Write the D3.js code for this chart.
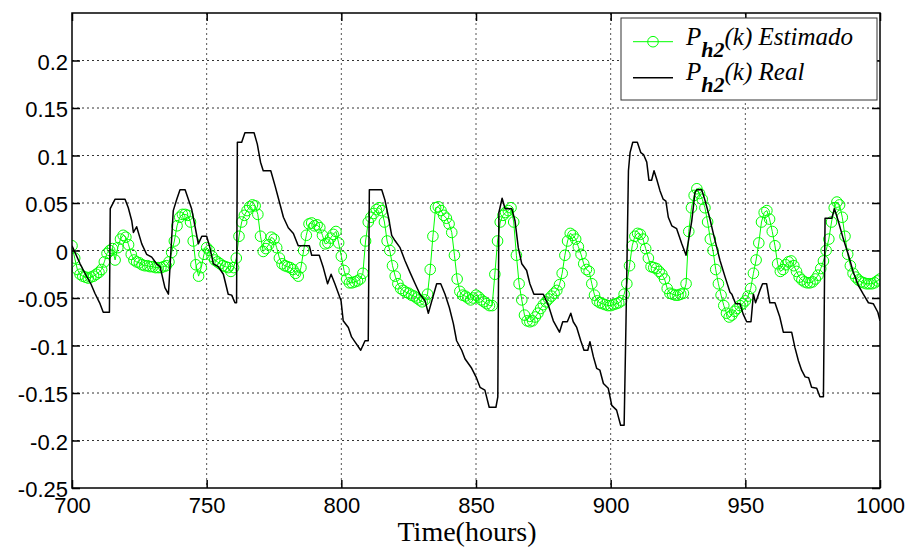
<!DOCTYPE html>
<html>
<head>
<meta charset="utf-8">
<script src="https://cdn.jsdelivr.net/npm/d3@7/dist/d3.min.js"></script>
<style>
  html, body { margin: 0; padding: 0; background: #fff; }
  svg { display: block; }
</style>
</head>
<body>
<svg id="chart" width="911" height="548"></svg>
<script>
// ---- Data ----
const xTicks = [700, 750, 800, 850, 900, 950, 1000];
const yTicks = [-0.25, -0.2, -0.15, -0.1, -0.05, 0, 0.05, 0.1, 0.15, 0.2];

// Estimated series: one value per hour, 700..1000
const estHours = d3.range(700, 1001);
const estValues = [
  0.005, -0.008, -0.02, -0.025, -0.027, -0.028, -0.029, -0.028, -0.027, -0.025,
  -0.023, -0.02, -0.012, -0.003, 0.0, 0.002, -0.01, 0.003, 0.012, 0.016,
  0.014, 0.006, -0.004, -0.01, -0.012, -0.013, -0.015, -0.016, -0.016, -0.017,
  -0.017, -0.018, -0.018, -0.018, -0.017, -0.016, -0.012, -0.002, 0.01, 0.026,
  0.035, 0.038, 0.038, 0.037, 0.03, 0.01, -0.015, -0.027, -0.018, -0.004,
  0.003, 0.0, -0.006, -0.01, -0.012, -0.014, -0.016, -0.017, -0.018, -0.022,
  -0.018, -0.008, 0.015, 0.03, 0.037, 0.042, 0.046, 0.048, 0.047, 0.038,
  0.015, -0.001, 0.002, 0.006, 0.014, 0.012, 0.003, -0.008, -0.014, -0.016,
  -0.017, -0.018, -0.02, -0.024, -0.027, -0.018, 0.0, 0.016, 0.028, 0.029,
  0.026, 0.027, 0.024, 0.016, 0.007, 0.008, 0.013, 0.017, 0.02, 0.008,
  -0.006, -0.021, -0.03, -0.034, -0.034, -0.033, -0.032, -0.03, -0.024, 0.01,
  0.03, 0.035, 0.039, 0.043, 0.045, 0.042, 0.03, 0.01, 0.0, -0.016,
  -0.027, -0.035, -0.04, -0.042, -0.044, -0.045, -0.047, -0.048, -0.05, -0.052,
  -0.054, -0.052, -0.046, -0.02, 0.015, 0.045, 0.046, 0.042, 0.037, 0.034,
  0.028, 0.019, -0.005, -0.03, -0.043, -0.047, -0.048, -0.05, -0.052, -0.05,
  -0.047, -0.049, -0.052, -0.054, -0.056, -0.058, -0.058, -0.025, 0.01, 0.03,
  0.037, 0.04, 0.042, 0.045, 0.03, -0.005, -0.035, -0.052, -0.068, -0.074,
  -0.075, -0.074, -0.07, -0.066, -0.061, -0.057, -0.054, -0.051, -0.048, -0.045,
  -0.042, -0.036, -0.024, -0.005, 0.01, 0.018, 0.016, 0.012, 0.004, -0.004,
  -0.014, -0.02, -0.022, -0.035, -0.047, -0.053, -0.055, -0.056, -0.057, -0.058,
  -0.058, -0.057, -0.056, -0.055, -0.053, -0.046, -0.035, -0.016, 0.005, 0.015,
  0.018, 0.017, 0.012, 0.002, -0.008, -0.017, -0.018, -0.019, -0.022, -0.025,
  -0.03, -0.04, -0.045, -0.046, -0.047, -0.047, -0.046, -0.045, -0.035, 0.02,
  0.045, 0.058, 0.065, 0.06, 0.054, 0.045, 0.03, 0.012, 0.0, -0.02,
  -0.035, -0.047, -0.058, -0.066, -0.07, -0.068, -0.064, -0.061, -0.058, -0.056,
  -0.053, -0.048, -0.04, -0.024, -0.01, 0.008, 0.03, 0.04, 0.042, 0.033,
  0.02, 0.005, -0.014, -0.022, -0.02, -0.015, -0.012, -0.011, -0.016, -0.022,
  -0.028, -0.031, -0.033, -0.034, -0.034, -0.033, -0.03, -0.026, -0.019, -0.011,
  0.0, 0.012, 0.03, 0.045, 0.051, 0.048, 0.035, 0.015, -0.004, -0.016,
  -0.024, -0.028, -0.031, -0.033, -0.034, -0.035, -0.035, -0.035, -0.034, -0.032,
  -0.03
];

// Real series: breakpoints
const realHours = [
  700, 703, 705, 707, 708.5, 710.4, 711.6, 713.9, 714.2, 716,
  719.7, 720.9, 722.2, 722.8, 724, 725.9, 727.7, 729.6, 731.4, 732.7,
  734.5, 735.8, 737.6, 738.9, 740.1, 742, 743.2, 744.4, 745.7, 746.9,
  748.2, 750, 751.2, 752.5, 754.3, 756.2, 758, 759.3, 760.5, 761.1,
  761.4, 763, 764.2, 767.6, 768.8, 770, 771, 773.8, 775.4, 777,
  778.5, 780.3, 782.2, 784, 788.1, 789, 791.8, 793.3, 794.9, 796.2,
  797.6, 799.9, 800.7, 802.6, 803.8, 805, 807.2, 808.8, 810, 810.4,
  815, 816.2, 817.5, 818.7, 819.9, 821.8, 823.6, 825.5, 827.4, 829.2,
  831.1, 832.3, 833.6, 835.4, 836.9, 838.5, 840.1, 841.6, 842.8, 844.7,
  845.9, 848.4, 850, 851.5, 853.3, 854.9, 857.4, 858.1, 858.5, 859.7,
  860.8, 863.3, 864.5, 865.7, 867, 868.8, 870, 871.5, 875, 876.9,
  878.7, 881, 882.2, 883.9, 885.2, 886.1, 887.4, 888.9, 890.1, 891.5,
  892.3, 893.6, 894.8, 896, 897.3, 899.1, 900.4, 902.2, 903.7, 905,
  905.7, 906.6, 907.2, 908.2, 909.9, 911.2, 912.2, 913.4, 914.2, 915.2,
  916.1, 917.1, 918.3, 919.5, 920.5, 921.4, 922.7, 924.5, 926.4, 928,
  930.1, 931.3, 932, 933.8, 935, 936.7, 938.1, 940.6, 942.5, 944.3,
  945, 946.4, 948, 949.2, 950.5, 952.1, 953, 953.8, 955.4, 956.4,
  957.9, 959.1, 961, 962.8, 964.1, 967.2, 968.4, 969.7, 970.9, 972.2,
  973.5, 974.6, 976.5, 977.7, 979, 979.6, 982.1, 983.1, 984.5, 986.4,
  988.2, 990.1, 992, 993.8, 995.7, 997.5, 999.2, 1000
];
const realValues = [
  0.005, -0.014, -0.025, -0.035, -0.045, -0.056, -0.065, -0.065, 0.044, 0.054,
  0.054, 0.045, 0.031, 0.019, 0.025, 0.007, -0.004, -0.007, -0.014, -0.017,
  -0.039, -0.046, 0.042, 0.054, 0.064, 0.064, 0.054, 0.044, 0.025, 0.007,
  0.015, 0.015, 0.003, -0.014, -0.017, -0.025, -0.046, -0.047, -0.055, -0.055,
  0.114, 0.114, 0.124, 0.124, 0.112, 0.093, 0.084, 0.084, 0.068, 0.051,
  0.035, 0.024, 0.018, 0.005, 0.005, -0.005, -0.005, -0.018, -0.035, -0.025,
  -0.035, -0.053, -0.074, -0.081, -0.091, -0.096, -0.105, -0.095, -0.095, 0.064,
  0.064, 0.053, 0.035, 0.016, 0.0105, 0.003, -0.0105, -0.023, -0.035, -0.046,
  -0.053, -0.066, -0.053, -0.035, -0.035, -0.046, -0.060, -0.077, -0.095, -0.105,
  -0.114, -0.124, -0.133, -0.144, -0.147, -0.165, -0.165, -0.154, 0.040, 0.055,
  0.044, 0.044, 0.031, 0.003, -0.014, -0.021, -0.035, -0.046, -0.046, -0.058,
  -0.074, -0.086, -0.075, -0.075, -0.066, -0.075, -0.081, -0.095, -0.105, -0.105,
  -0.096, -0.112, -0.124, -0.126, -0.140, -0.145, -0.163, -0.168, -0.184, -0.184,
  -0.074, 0.084, 0.103, 0.114, 0.114, 0.103, 0.101, 0.093, 0.074, 0.074,
  0.084, 0.075, 0.063, 0.054, 0.052, 0.035, 0.026, 0.023, 0.007, -0.005,
  0.031, 0.061, 0.064, 0.064, 0.053, 0.035, 0.018, -0.0105, -0.028, -0.044,
  -0.046, -0.056, -0.056, -0.067, -0.075, -0.075, -0.046, -0.055, -0.042, -0.035,
  -0.035, -0.055, -0.055, -0.070, -0.086, -0.086, -0.102, -0.116, -0.126, -0.133,
  -0.134, -0.144, -0.145, -0.154, -0.154, 0.034, 0.034, 0.044, 0.031, 0.012,
  -0.004, -0.023, -0.037, -0.046, -0.055, -0.056, -0.065, -0.074
];

const xLabel = "Time(hours)";
const legendLabels = [
  { main: "P", sub: "h2", rest: "(k) Estimado" },
  { main: "P", sub: "h2", rest: "(k) Real" }
];

// ---- Layout ----
const svg = d3.select("#chart");
const L = 72, R = 880, T = 13, B = 488;
const x = d3.scaleLinear().domain([700, 1000]).range([L, R]);
const y = d3.scaleLinear().domain([-0.25, 0.25]).range([B, T]);
const GREEN = "#00ff00";
const fmt = d => String(+d.toFixed(2));

// Grid
const grid = svg.append("g").attr("class", "grid");
grid.selectAll("line.gy").data(yTicks.filter(v => v > -0.25))
  .join("line").attr("class", "gy")
  .attr("x1", L).attr("x2", R)
  .attr("y1", d => y(d)).attr("y2", d => y(d))
  .attr("stroke", "#333").attr("stroke-width", 1).attr("stroke-dasharray", "2,3");
grid.selectAll("line.gx").data(xTicks.filter(v => v > 700 && v < 1000))
  .join("line").attr("class", "gx")
  .attr("y1", T).attr("y2", B)
  .attr("x1", d => x(d)).attr("x2", d => x(d))
  .attr("stroke", "#555").attr("stroke-width", 1).attr("stroke-dasharray", "2,3");

// Clip
svg.append("defs").append("clipPath").attr("id", "clip")
  .append("rect").attr("x", L).attr("y", T).attr("width", R - L).attr("height", B - T);
const plot = svg.append("g").attr("clip-path", "url(#clip)");

// Estimated series
const estData = estHours.map((h, i) => [h, estValues[i]]);
plot.append("path").datum(estData)
  .attr("fill", "none").attr("stroke", GREEN).attr("stroke-width", 1)
  .attr("d", d3.line().x(d => x(d[0])).y(d => y(d[1])));
plot.selectAll("circle.est").data(estData).join("circle").attr("class", "est")
  .attr("cx", d => x(d[0])).attr("cy", d => y(d[1])).attr("r", 5.3)
  .attr("fill", "none").attr("stroke", GREEN).attr("stroke-width", 1);

// Real series
const realData = realHours.map((h, i) => [h, realValues[i]]);
plot.append("path").datum(realData)
  .attr("fill", "none").attr("stroke", "#000").attr("stroke-width", 1.5)
  .attr("stroke-linejoin", "round")
  .attr("d", d3.line().x(d => x(d[0])).y(d => y(d[1])));

// Axes
const tickFont = "'Liberation Sans', Arial, Helvetica, sans-serif";
const axL = svg.append("g").attr("transform", `translate(${L},0)`)
  .call(d3.axisLeft(y).tickValues(yTicks).tickFormat(fmt).tickSizeInner(-8).tickSizeOuter(0).tickPadding(4));
const axB = svg.append("g").attr("transform", `translate(0,${B})`)
  .call(d3.axisBottom(x).tickValues(xTicks).tickFormat(d3.format("d")).tickSizeInner(-8).tickSizeOuter(0).tickPadding(9));
const axR = svg.append("g").attr("transform", `translate(${R},0)`)
  .call(d3.axisRight(y).tickValues(yTicks).tickFormat("").tickSizeInner(-8).tickSizeOuter(0));
const axT = svg.append("g").attr("transform", `translate(0,${T})`)
  .call(d3.axisTop(x).tickValues(xTicks).tickFormat("").tickSizeInner(-8).tickSizeOuter(0));
[axL, axB, axR, axT].forEach(a => {
  a.select(".domain").remove();
  a.selectAll(".tick line").attr("stroke", "#000").attr("stroke-width", 1.5);
  a.selectAll(".tick text").attr("fill", "#000")
    .style("font-family", tickFont).style("font-size", "22px");
});
axL.selectAll(".tick text").attr("dy", "0.4em");

// Frame
svg.append("rect").attr("x", L).attr("y", T).attr("width", R - L).attr("height", B - T)
  .attr("fill", "none").attr("stroke", "#000").attr("stroke-width", 1.5);

// X label
svg.append("text").attr("x", 467).attr("y", 541).attr("text-anchor", "middle")
  .style("font-family", "'Liberation Serif', 'Times New Roman', serif").style("font-size", "28px")
  .text(xLabel);

// Legend
const lg = svg.append("g");
lg.append("rect").attr("x", 621).attr("y", 18).attr("width", 256).attr("height", 82)
  .attr("fill", "#fff").attr("stroke", "#333").attr("stroke-width", 1);
const rows = [
  { ly: 41.7, ty: 45, color: GREEN, w: 1, marker: true },
  { ly: 77.7, ty: 80, color: "#000", w: 1.5, marker: false }
];
rows.forEach((r, i) => {
  lg.append("line").attr("x1", 633).attr("x2", 673).attr("y1", r.ly).attr("y2", r.ly)
    .attr("stroke", r.color).attr("stroke-width", r.w);
  if (r.marker) {
    lg.append("circle").attr("cx", 653).attr("cy", r.ly).attr("r", 5.3)
      .attr("fill", "none").attr("stroke", r.color).attr("stroke-width", 1);
  }
  const t = lg.append("text").attr("x", 686).attr("y", r.ty)
    .style("font-family", "'Liberation Serif', 'Times New Roman', serif")
    .style("font-style", "italic").style("font-size", "25px").attr("fill", "#000");
  t.append("tspan").text(legendLabels[i].main);
  t.append("tspan").attr("dy", 12).style("font-weight", "bold").style("font-size", "22px")
    .text(legendLabels[i].sub);
  t.append("tspan").attr("dy", -12).text(legendLabels[i].rest);
});
</script>
</body>
</html>
